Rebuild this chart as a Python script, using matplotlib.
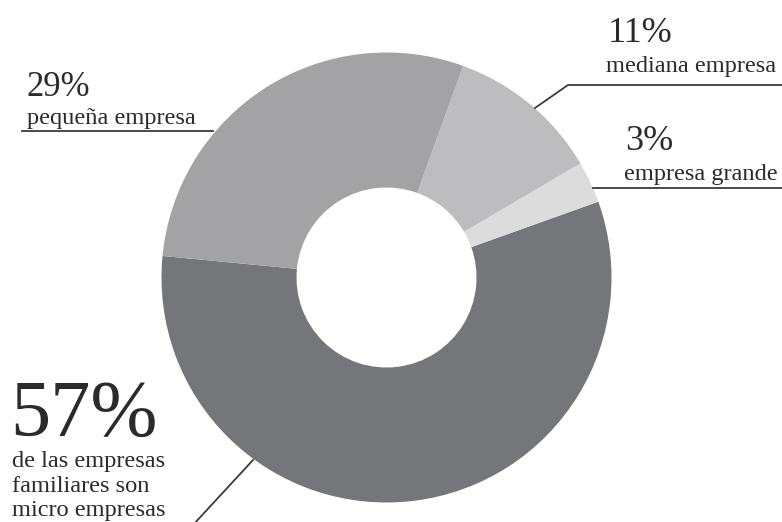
import matplotlib.pyplot as plt

# share of family businesses by size
labels = ["micro empresas", "empresa grande", "mediana empresa", "pequeña empresa"]
shares = [57, 3, 11, 29]
colors = ["#75767a", "#dcdcdd", "#bdbdbf", "#a3a3a5"]

W, H = 782, 522
cx, cy = 386.5, H - 277.5
R, r_in = 225, 90

plt.rcParams["font.family"] = ["Liberation Serif", "DejaVu Serif"]
text_color = "#2b2b2b"
line_color = "#3a3a3a"

fig = plt.figure(figsize=(W / 100, H / 100), dpi=100)
ax = fig.add_axes([0, 0, 1, 1])

ax.pie(
    shares,
    colors=colors,
    startangle=174.5,
    counterclock=True,
    center=(cx, cy),
    radius=R,
    wedgeprops=dict(width=R - r_in, linewidth=0),
)
ax.set_xlim(0, W)
ax.set_ylim(0, H)
ax.set_aspect("equal")
ax.axis("off")


def y(v):
    return H - v


pct_size = 25
label_size = 17.6

# 29% pequeña empresa
ax.text(27, y(96), f"{shares[3]}%", fontsize=pct_size, color=text_color, va="baseline")
ax.text(27, y(124), labels[3], fontsize=label_size, color=text_color, va="baseline")
ax.plot([22, 213], [y(131), y(131)], color=line_color, lw=1.3)

# 11% mediana empresa
ax.text(608, y(42), f"{shares[2]}%", fontsize=pct_size + 1, color=text_color, va="baseline")
ax.text(606, y(72), labels[2], fontsize=label_size, color=text_color, va="baseline")
ax.plot([535, 568, 782], [y(108), y(85), y(85)], color=line_color, lw=1.3)

# 3% empresa grande
ax.text(625, y(150), f"{shares[1]}%", fontsize=pct_size + 1, color=text_color, va="baseline")
ax.text(624, y(180), labels[1], fontsize=label_size, color=text_color, va="baseline")
ax.plot([593, 782], [y(188), y(188)], color=line_color, lw=1.3)

# 57% micro empresas
ax.text(10, y(436), f"{shares[0]}%", fontsize=58, color=text_color, va="baseline")
ax.text(12, y(467), "de las empresas", fontsize=label_size, color=text_color, va="baseline")
ax.text(12, y(492), "familiares son", fontsize=label_size, color=text_color, va="baseline")
ax.text(12, y(516), labels[0], fontsize=label_size, color=text_color, va="baseline")
ax.plot([193, 253], [y(525), y(460)], color=line_color, lw=1.3)

fig.savefig("out.png", dpi=100)
